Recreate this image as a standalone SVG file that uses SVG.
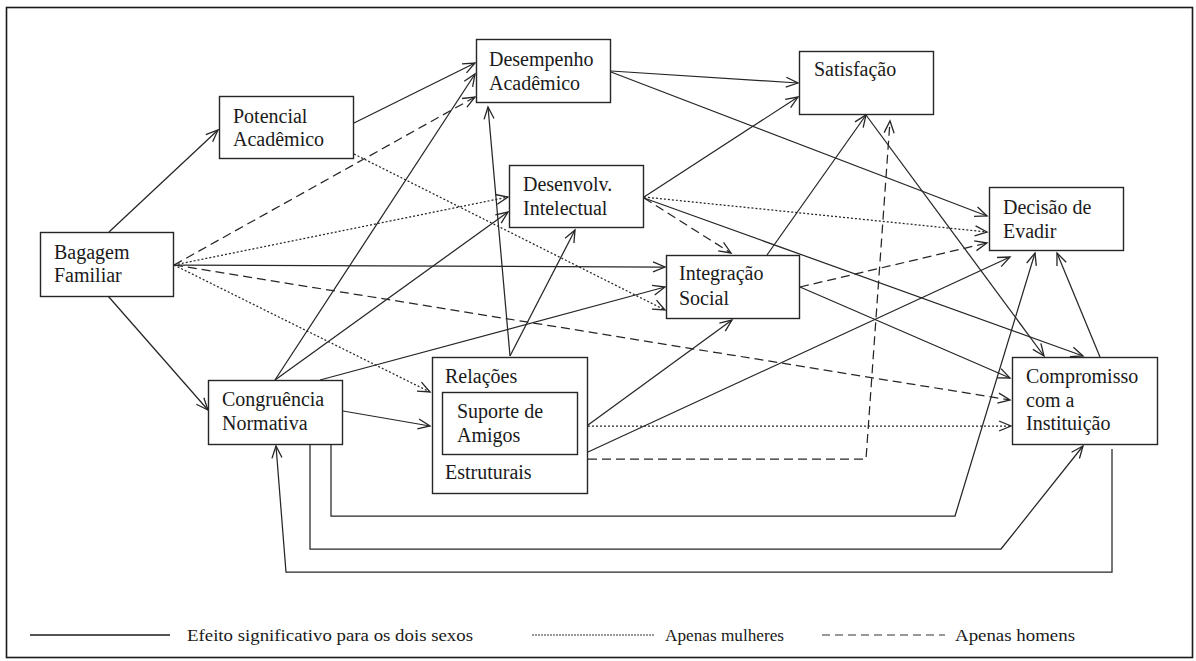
<svg xmlns="http://www.w3.org/2000/svg" width="1196" height="661" viewBox="0 0 1196 661">
  <defs>
    <marker id="arrow" markerUnits="userSpaceOnUse" markerWidth="16" markerHeight="14" refX="0" refY="0" viewBox="-14 -7 16 14" orient="auto" overflow="visible">
      <path d="M-12,-5 L0,0 L-12,5" fill="none" stroke="#262626" stroke-width="1.3" stroke-dasharray="none"/>
    </marker>
    <style>
      .box { fill: #fff; stroke: #262626; stroke-width: 1.4; }
      .lbl { font-family: "Liberation Serif", "Times New Roman", serif; font-size: 20px; fill: #1a1a1a; }
      .leg { font-family: "Liberation Serif", "Times New Roman", serif; font-size: 16px; fill: #1a1a1a; }
      .c { fill: none; stroke: #262626; stroke-width: 1.25; marker-end: url(#arrow); }
      .both { }
      .men { stroke-dasharray: 9 5; }
      .women { stroke-dasharray: 2 2; }
    </style>
  </defs>

  <rect width="1196" height="661" fill="#fff"/>
  <!-- outer frame -->
  <rect x="6.5" y="7.5" width="1186" height="650" fill="none" stroke="#1a1a1a" stroke-width="1.6"/>

  <!-- connectors -->
  <g id="connectors">
    <!-- effect for both sexes -->
    <path class="c both" d="M109,232 L218,130"/>
    <path class="c both" d="M108,296 L208,410"/>
    <path class="c both" d="M174,265 L665,267"/>
    <path class="c both" d="M354,123 L475,63"/>
    <path class="c both" d="M275,380 L475,74"/>
    <path class="c both" d="M275,380 L508,212"/>
    <path class="c both" d="M320,380 L665,287"/>
    <path class="c both" d="M343,411 L430,426"/>
    <path class="c both" d="M510,356 L488,107"/>
    <path class="c both" d="M510,356 L575,230"/>
    <path class="c both" d="M588,425 L732,320"/>
    <path class="c both" d="M588,452 L1010,257"/>
    <path class="c both" d="M611,71 L798,83"/>
    <path class="c both" d="M611,72 L987,216"/>
    <path class="c both" d="M644,197 L798,97"/>
    <path class="c both" d="M644,198 L1083,356"/>
    <path class="c both" d="M767,255 L866,115"/>
    <path class="c both" d="M800,287 L1010,378"/>
    <path class="c both" d="M866,115 L1044,356"/>
    <path class="c both" d="M1100,357 L1057,253"/>
    <path class="c both" d="M331,444 V516 H955 L1035,253"/>
    <path class="c both" d="M310,444 V549 H1001 L1083,446"/>
    <path class="c both" d="M1112,449 V572 H286 L276,446"/>
    <!-- men only -->
    <path class="c men" d="M174,265 L475,97"/>
    <path class="c men" d="M174,265 L1010,400"/>
    <path class="c men" d="M644,198 L731,253"/>
    <path class="c men" d="M800,287 L987,243"/>
    <path class="c men" d="M588,459 H866 L890,121"/>
    <!-- women only -->
    <path class="c women" d="M174,265 L508,197"/>
    <path class="c women" d="M174,265 L430,392"/>
    <path class="c women" d="M354,154 L665,310"/>
    <path class="c women" d="M644,197 L987,232"/>
    <path class="c women" d="M588,426 L1011,426"/>
  </g>

  <!-- nodes -->
  <g id="bagagem-familiar">
    <rect class="box" x="40.5" y="232.5" width="133" height="64"/>
    <text class="lbl" x="54" y="259">Bagagem</text>
    <text class="lbl" x="54" y="282">Familiar</text>
  </g>
  <g id="potencial-academico">
    <rect class="box" x="219.5" y="96.5" width="134" height="62"/>
    <text class="lbl" x="233" y="123">Potencial</text>
    <text class="lbl" x="233" y="146">Acadêmico</text>
  </g>
  <g id="desempenho-academico">
    <rect class="box" x="476.5" y="39.5" width="134" height="63"/>
    <text class="lbl" x="489" y="66">Desempenho</text>
    <text class="lbl" x="489" y="90">Acadêmico</text>
  </g>
  <g id="desenvolv-intelectual">
    <rect class="box" x="509.5" y="165.5" width="134" height="62"/>
    <text class="lbl" x="523" y="191">Desenvolv.</text>
    <text class="lbl" x="523" y="215">Intelectual</text>
  </g>
  <g id="integracao-social">
    <rect class="box" x="666.5" y="255.5" width="133" height="63"/>
    <text class="lbl" x="679" y="280">Integração</text>
    <text class="lbl" x="679" y="305">Social</text>
  </g>
  <g id="satisfacao">
    <rect class="box" x="799.5" y="51.5" width="134" height="63"/>
    <text class="lbl" x="814" y="76">Satisfação</text>
  </g>
  <g id="decisao-de-evadir">
    <rect class="box" x="989.5" y="187.5" width="134" height="63"/>
    <text class="lbl" x="1003" y="214">Decisão de</text>
    <text class="lbl" x="1003" y="238">Evadir</text>
  </g>
  <g id="congruencia-normativa">
    <rect class="box" x="208.5" y="380.5" width="134" height="64"/>
    <text class="lbl" x="222" y="406">Congruência</text>
    <text class="lbl" x="222" y="430">Normativa</text>
  </g>
  <g id="relacoes-estruturais">
    <rect class="box" x="432.5" y="357.5" width="155" height="136"/>
    <text class="lbl" x="445" y="383">Relações</text>
    <text class="lbl" x="445" y="479">Estruturais</text>
  </g>
  <g id="suporte-de-amigos">
    <rect class="box" x="442.5" y="392.5" width="135" height="62"/>
    <text class="lbl" x="457" y="418">Suporte de</text>
    <text class="lbl" x="457" y="442">Amigos</text>
  </g>
  <g id="compromisso-instituicao">
    <rect class="box" x="1012.5" y="357.5" width="145" height="87"/>
    <text class="lbl" x="1026" y="383">Compromisso</text>
    <text class="lbl" x="1026" y="407">com a</text>
    <text class="lbl" x="1026" y="430">Instituição</text>
  </g>

  <!-- legend -->
  <g id="legend">
    <line x1="30" y1="635" x2="170" y2="635" stroke="#1a1a1a" stroke-width="1.6"/>
    <text class="leg" x="187" y="641" textLength="286" lengthAdjust="spacingAndGlyphs">Efeito significativo para os dois sexos</text>
    <line x1="532" y1="635" x2="655" y2="635" stroke="#333" stroke-width="1.2" stroke-dasharray="2 1"/>
    <text class="leg" x="665" y="641" textLength="119" lengthAdjust="spacingAndGlyphs">Apenas mulheres</text>
    <line x1="822" y1="635" x2="945" y2="635" stroke="#333" stroke-width="1.2" stroke-dasharray="8 5"/>
    <text class="leg" x="955" y="641" textLength="120" lengthAdjust="spacingAndGlyphs">Apenas homens</text>
  </g>
</svg>
